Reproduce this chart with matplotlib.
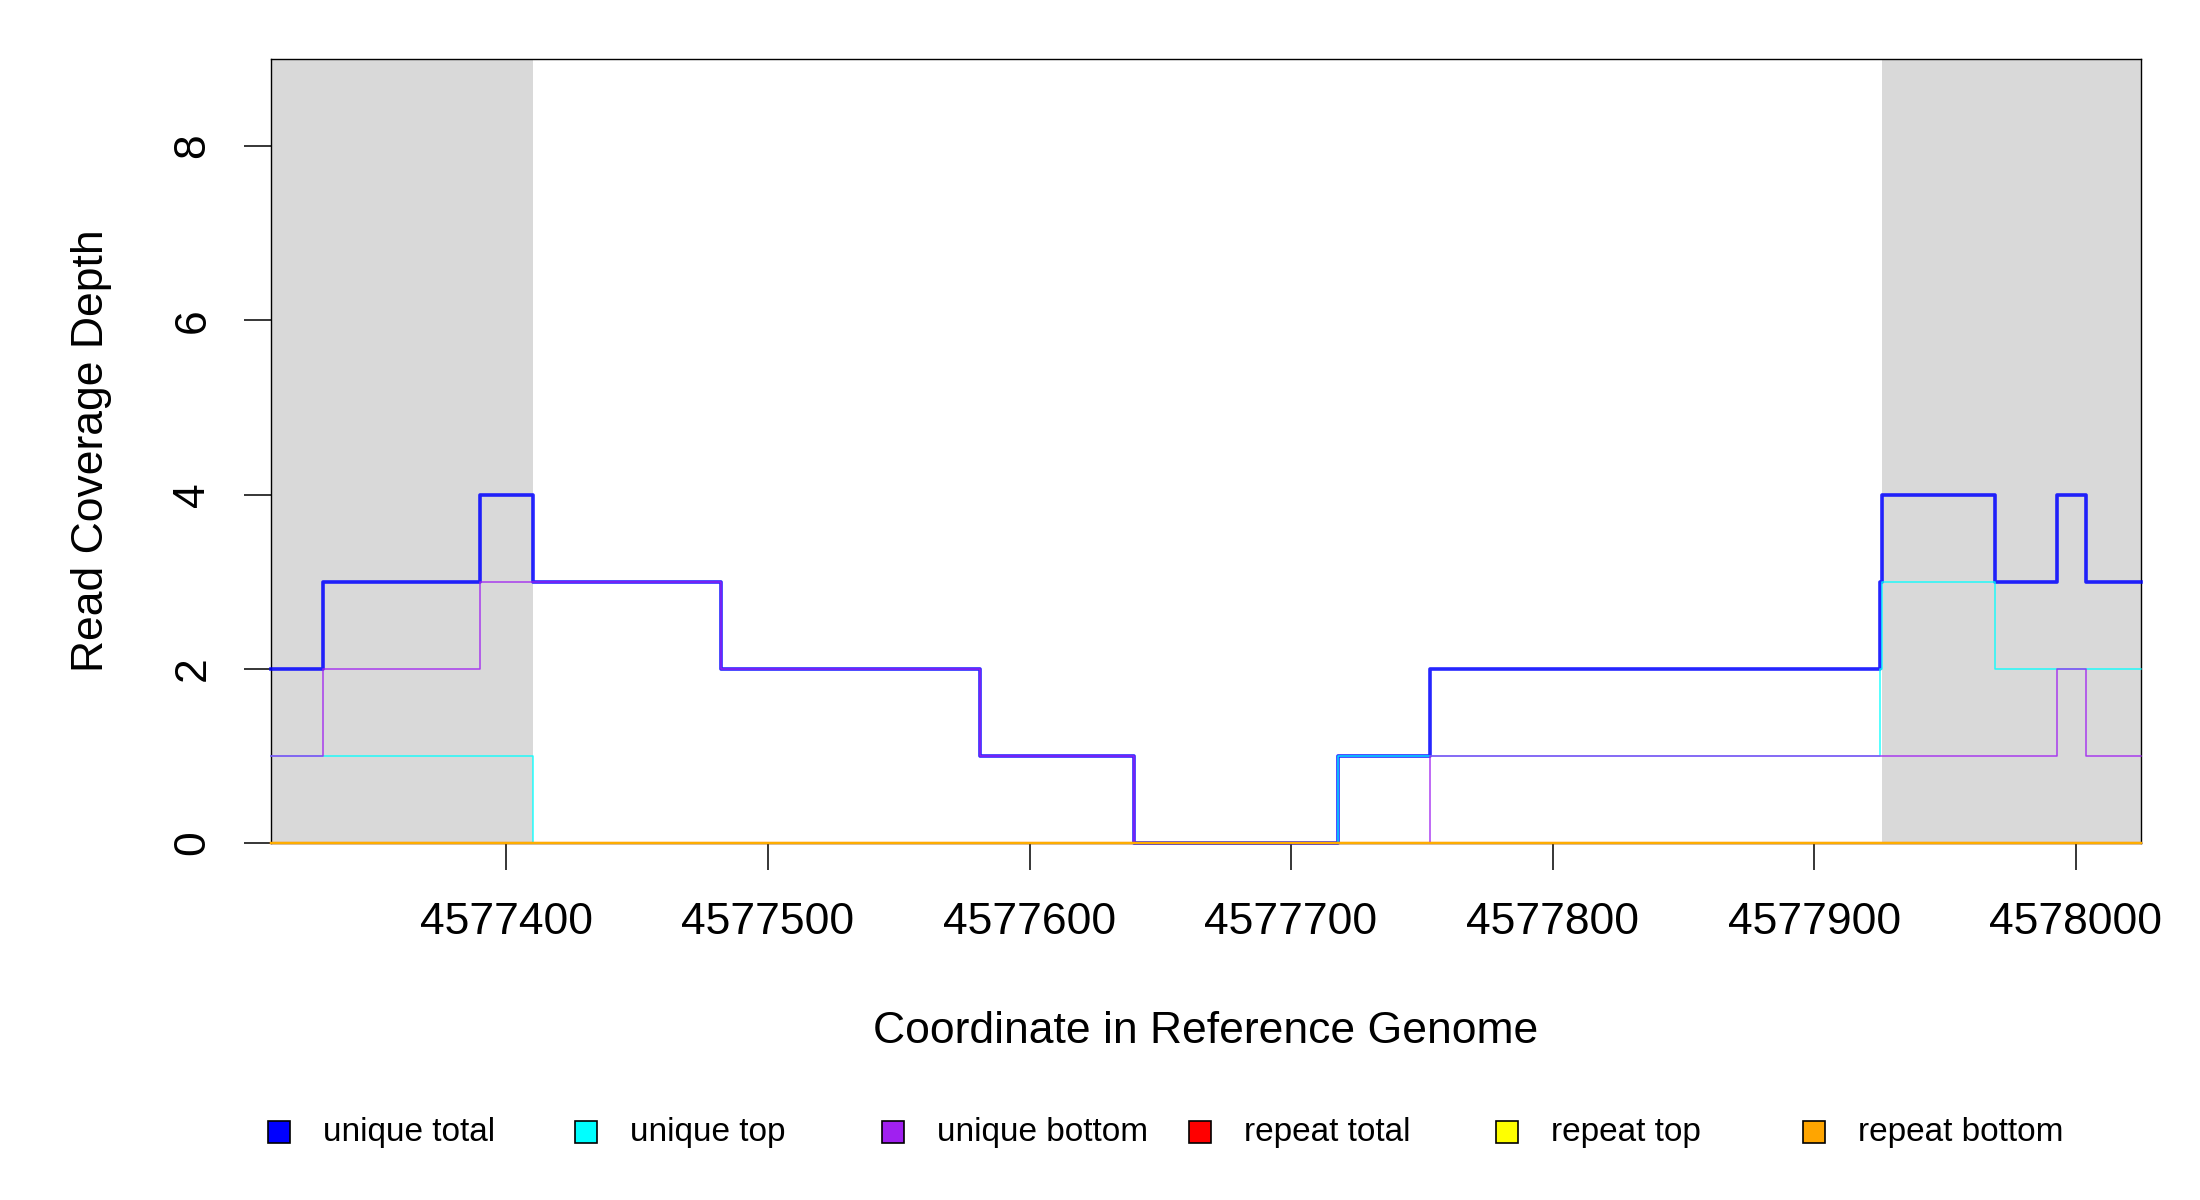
import matplotlib
matplotlib.use("Agg")
import matplotlib.pyplot as plt
from matplotlib.patches import Rectangle

plt.rcParams["font.family"] = ["Liberation Sans", "DejaVu Sans"]

# step boundaries (genome coordinate) shared by all series
EDGES = [4577310, 4577330, 4577390, 4577410, 4577482, 4577581, 4577640,
         4577718, 4577753, 4577925, 4577926, 4577969, 4577993, 4578004, 4578025]
UNIQUE_TOTAL = [2, 3, 4, 3, 2, 1, 0, 1, 2, 3, 4, 3, 4, 3]
UNIQUE_TOP = [1, 1, 1, 0, 0, 0, 0, 1, 1, 2, 3, 2, 2, 2]
UNIQUE_BOTTOM = [1, 2, 3, 3, 2, 1, 0, 0, 1, 1, 1, 1, 2, 1]
REPEAT_TOTAL = [0] * 14
REPEAT_TOP = [0] * 14
REPEAT_BOTTOM = [0] * 14

FLANKS = [(4577310, 4577410), (4577926, 4578025)]
XLIM = (4577310, 4578025)
XTICKS = [4577400, 4577500, 4577600, 4577700, 4577800, 4577900, 4578000]
YTICKS = [0, 2, 4, 6, 8]

LABELS = ["unique total", "unique top", "unique bottom",
          "repeat total", "repeat top", "repeat bottom"]
COLORS = ["#0000FF", "#00FFFF", "#A020F0", "#FF0000", "#FFFF00", "#FFA500"]
SERIES = [UNIQUE_TOTAL, UNIQUE_TOP, UNIQUE_BOTTOM, REPEAT_TOTAL, REPEAT_TOP, REPEAT_BOTTOM]
WIDTHS = [2.6, 1.1, 1.1, 1.6, 1.6, 1.6]

fig = plt.figure(figsize=(22, 12), dpi=100)
ax = fig.add_axes([0.1232, 0.2975, 0.85, 0.6533])

for lo, hi in FLANKS:
    ax.axvspan(lo, hi, color="#D9D9D9", lw=0, zorder=0)

for vals, col, lw in zip(SERIES, COLORS, WIDTHS):
    ax.step(EDGES, vals + [vals[-1]], where="post", color=col, lw=lw, alpha=0.85,
            zorder=3, clip_on=False)

ax.set_xlim(*XLIM)
ax.set_ylim(0, 9)
ax.set_xticks(XTICKS)
ax.set_xticklabels([str(t) for t in XTICKS])
ax.set_yticks(YTICKS)
ax.set_yticklabels([str(t) for t in YTICKS], rotation=90, va="center")

ax.tick_params(axis="both", direction="out", length=19.5, width=1.1, labelsize=32, color="black")
ax.tick_params(axis="x", pad=23)
ax.tick_params(axis="y", pad=22)

for side in ["left", "top", "right", "bottom"]:
    ax.spines[side].set_linewidth(1.0)
    ax.spines[side].set_zorder(2.5)

ax.set_xlabel("Coordinate in Reference Genome", fontsize=32, va="center")
ax.set_ylabel("Read Coverage Depth", fontsize=32, va="center")
ax.xaxis.set_label_coords(0.5, -0.24)
ax.yaxis.set_label_coords(-0.0958, 0.5)

# legend row along the bottom
box = 22
for i, (lab, col) in enumerate(zip(LABELS, COLORS)):
    cx = 279 + i * 307
    fig.add_artist(Rectangle(((cx - box / 2) / 2200, (1200 - 1132 - box / 2) / 1200),
                             box / 2200, box / 1200, transform=fig.transFigure,
                             facecolor=col, edgecolor="black", lw=1.2))
    fig.text((cx + 44) / 2200, 1 - 1132 / 1200, lab, fontsize=24, va="center", ha="left")

fig.savefig("out.png", dpi=100)
